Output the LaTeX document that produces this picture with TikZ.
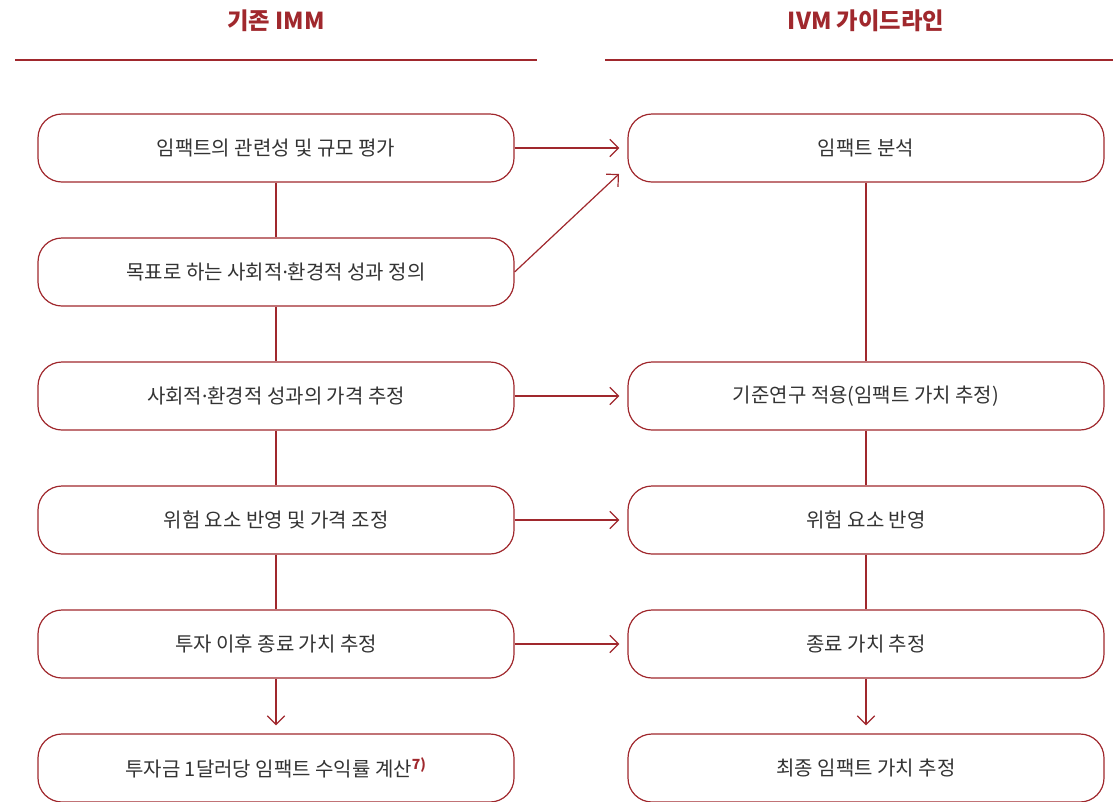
\documentclass[tikz,border=0pt]{standalone}
\usepackage{fontspec}
\setmainfont{Noto Sans CJK KR}
\newfontfamily\kr{Noto Sans CJK KR}
\newfontfamily\dotfont{Noto Sans}
\newcommand{\md}{{\dotfont ·}}
\usetikzlibrary{arrows.meta}
\definecolor{imred}{HTML}{A0282D}
\definecolor{imtext}{HTML}{333333}
\tikzset{
  box/.style={draw=imred, line width=0.9pt, rounded corners=18pt, minimum width=357pt, minimum height=51pt, inner sep=0pt, text=imtext, font=\kr\fontsize{15}{18}\selectfont},
  hdr/.style={text=imred, font=\kr\bfseries\fontsize{17.5}{20}\selectfont},
  link/.style={draw=imred, line width=0.9pt},
  arr/.style={link, -{Straight Barb[length=6.5pt,width=13pt,line width=0.9pt]}, shorten >=6pt},
  hline/.style={draw=imred, line width=0.9pt}
}
\begin{document}
\begin{tikzpicture}[x=0.75pt,y=-0.75pt]
\useasboundingbox (0,0) rectangle (1113,801);
\clip (0,0) rectangle (1113,801);
\node[hdr] (H1) at (276,21) {기존 IMM};
\node[hdr] (H2) at (866,21) {IVM 가이드라인};
\draw[hline] (15,60) -- (537,60);
\draw[hline] (605,60) -- (1113,60);
\node[box] (L1) at (276,148) {임팩트의 관련성 및 규모 평가};
\node[box] (L2) at (276,272) {목표로 하는 사회적\md 환경적 성과 정의};
\node[box] (L3) at (276,396) {사회적\md 환경적 성과의 가격 추정};
\node[box] (L4) at (276,520) {위험 요소 반영 및 가격 조정};
\node[box] (L5) at (276,644) {투자 이후 종료 가치 추정};
\node[box] (L6) at (276,768) {투자금 1달러당 임팩트 수익률 계산\textsuperscript{\textcolor{imred}{\bfseries 7)}}};
\node[box] (R1) at (866,148) {임팩트 분석};
\node[box] (R3) at (866,396) {기준연구 적용(임팩트 가치 추정)};
\node[box] (R4) at (866,520) {위험 요소 반영};
\node[box] (R5) at (866,644) {종료 가치 추정};
\node[box] (R6) at (866,768) {최종 임팩트 가치 추정};
\coordinate (D) at (619,174);
\draw[link] (L1) -- (L2);
\draw[link] (L2) -- (L3);
\draw[link] (L3) -- (L4);
\draw[link] (L4) -- (L5);
\draw[arr] (L5) -- (L6);
\draw[link] (R1) -- (R3);
\draw[link] (R3) -- (R4);
\draw[link] (R4) -- (R5);
\draw[arr] (R5) -- (R6);
\draw[arr] (L1) -- (R1);
\draw[arr] (L3) -- (R3);
\draw[arr] (L4) -- (R4);
\draw[arr] (L5) -- (R5);
\draw[link, -{Straight Barb[length=6.5pt,width=13pt,line width=0.9pt]}] (L2.east) -- (D);
\end{tikzpicture}
\end{document}
